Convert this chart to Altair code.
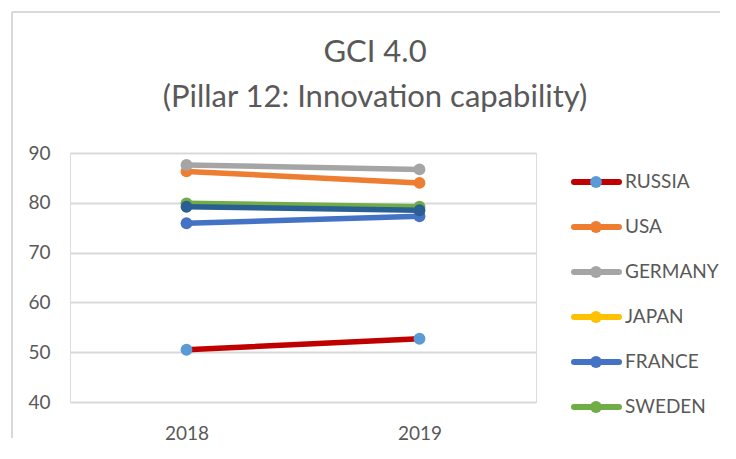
import altair as alt
import pandas as pd

# ---- data ----
countries = ["RUSSIA", "USA", "GERMANY", "JAPAN", "FRANCE", "SWEDEN"]
years = ["2018", "2019"]
values_2018 = [50.5, 86.3, 87.6, 79.2, 75.9, 79.9]
values_2019 = [52.7, 84.0, 86.7, 78.5, 77.3, 79.2]
y_ticks = [40, 50, 60, 70, 80, 90]

# ---- styles ----
line_colors = ["#C00000", "#ED7D31", "#A5A5A5", "#FFC000", "#4472C4", "#70AD47"]
dot_colors = ["#5B9BD5", "#ED7D31", "#A5A5A5", "#FFC000", "#4472C4", "#70AD47"]
japan_plot_color = "#2A5F93"
text_color = "#595959"
grid_color = "#D9D9D9"
FONT = "Lato"

rows = []
for c, a, b in zip(countries, values_2018, values_2019):
    rows.append({"country": c, "year": years[0], "value": a})
    rows.append({"country": c, "year": years[1], "value": b})
df = pd.DataFrame(rows)
legend_df = pd.DataFrame({"country": countries})
one = pd.DataFrame({"k": [0]})

x_enc = alt.X("year:O", scale=alt.Scale(type="point", padding=0.5),
              axis=alt.Axis(title=None, labelAngle=0, domain=False, ticks=False,
                            labelPadding=22, labelFontSize=19, labelFont=FONT,
                            labelColor=text_color, grid=False))
y_enc = alt.Y("value:Q", scale=alt.Scale(domain=[40, 90], nice=False, zero=False),
              axis=alt.Axis(values=y_ticks, title=None, domain=False, ticks=False,
                            labelPadding=20, labelFontSize=19, labelFont=FONT,
                            labelColor=text_color, grid=True, gridColor=grid_color,
                            gridWidth=2))

others = alt.Chart(df).transform_filter(alt.datum.country != "JAPAN")
japan = alt.Chart(df).transform_filter(alt.datum.country == "JAPAN")

lines_other = others.mark_line(strokeWidth=5.5, strokeCap="round").encode(
    x=x_enc, y=y_enc,
    color=alt.Color("country:N", scale=alt.Scale(domain=countries, range=line_colors), legend=None),
)
points_other = others.mark_circle(size=140, opacity=1).encode(
    x=x_enc, y=y_enc,
    color=alt.Color("country:N", scale=alt.Scale(domain=countries, range=dot_colors), legend=None),
)
japan_line = japan.mark_line(strokeWidth=5.5, strokeCap="round", color=japan_plot_color).encode(
    x=x_enc, y=y_enc)
japan_points = japan.mark_circle(size=140, opacity=1, color=japan_plot_color).encode(
    x=x_enc, y=y_enc)

# chart frame (left and top edges)
frame_left = alt.Chart(one).mark_rule(color=grid_color, strokeWidth=2).encode(
    x=alt.value(-58), x2=alt.value(-58), y=alt.value(-141), y2=alt.value(285))
frame_top = alt.Chart(one).mark_rule(color=grid_color, strokeWidth=2).encode(
    x=alt.value(-58), x2=alt.value(650), y=alt.value(-141), y2=alt.value(-141))

main = alt.layer(frame_left, frame_top, lines_other, japan_line, points_other,
                 japan_points).resolve_scale(color="independent")

# legend (custom, to keep each key as drawn in the reference)
leg_y = alt.Y("country:N", scale=alt.Scale(type="point", domain=countries, range=[29, 254], padding=0),
              axis=None)
leg_base = alt.Chart(legend_df)
leg_rules = leg_base.mark_rule(strokeWidth=6, strokeCap="round").encode(
    x=alt.value(504), x2=alt.value(549), y=leg_y,
    color=alt.Color("country:N", scale=alt.Scale(domain=countries, range=line_colors), legend=None),
)
leg_dots = leg_base.mark_circle(size=140, opacity=1).encode(
    x=alt.value(526), y=leg_y,
    color=alt.Color("country:N", scale=alt.Scale(domain=countries, range=dot_colors), legend=None),
)
leg_text = leg_base.mark_text(align="left", baseline="middle", font=FONT, fontSize=19,
                              color=text_color).encode(
    x=alt.value(555), y=leg_y, text="country:N")
legend = alt.layer(leg_rules, leg_dots, leg_text).resolve_scale(color="independent")

chart = alt.layer(main, legend).resolve_scale(
    color="independent", y="independent"
).properties(
    width=466, height=249,
    padding={"left": 3, "top": 3, "right": 0, "bottom": 0},
    title=alt.TitleParams(
        text=["GCI 4.0", "(Pillar 12: Innovation capability)"],
        anchor="middle", frame="group", dx=72, offset=-103,
        font=FONT, fontSize=31, fontWeight="normal", color=text_color, lineHeight=45,
    ),
).configure_view(stroke="transparent", strokeWidth=0).configure(background="white")

chart.save("out.html", embed_options={"renderer": "svg", "actions": False})
